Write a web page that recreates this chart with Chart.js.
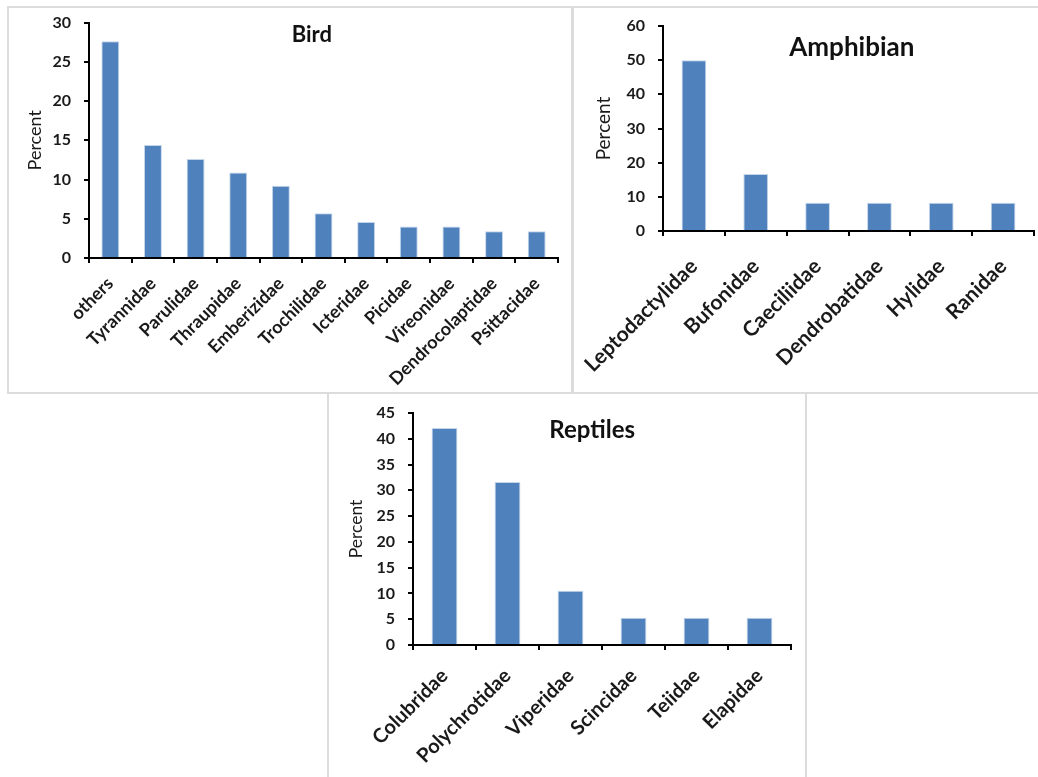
<!DOCTYPE html>
<html>
<head>
<meta charset="utf-8">
<script src="https://cdn.jsdelivr.net/npm/chart.js@4/dist/chart.umd.min.js"></script>
<style>
  html, body { margin: 0; padding: 0; background: #fff; }
  body { width: 1038px; height: 777px; position: relative; overflow: hidden; }
  .panel { position: absolute; border: 2px solid #dcdcdc; box-sizing: border-box; }
  canvas { position: absolute; }
</style>
</head>
<body>
<div class="panel" style="left:7px; top:6px; width:567px; height:388px;"></div>
<div class="panel" style="left:571px; top:6px; width:480px; height:388px;"></div>
<div class="panel" style="left:327px; top:392px; width:480px; height:400px; background:#fff;"></div>

<canvas id="bird" width="562" height="384" style="left:9px; top:8px;"></canvas>
<canvas id="amphibian" width="465" height="384" style="left:573px; top:8px;"></canvas>
<canvas id="reptiles" width="476" height="383" style="left:329px; top:394px;"></canvas>

<script>
// Percent of species per family, by group
const birdFamilies = ['others', 'Tyrannidae', 'Parulidae', 'Thraupidae', 'Emberizidae', 'Trochilidae',
  'Icteridae', 'Picidae', 'Vireonidae', 'Dendrocolaptidae', 'Psittacidae'];
const birdPercent = [27.6, 14.4, 12.6, 10.9, 9.2, 5.7, 4.6, 4.0, 4.0, 3.4, 3.4];
const birdTicks = { max: 30, step: 5 };

const amphibianFamilies = ['Leptodactylidae', 'Bufonidae', 'Caeciliidae', 'Dendrobatidae', 'Hylidae', 'Ranidae'];
const amphibianPercent = [50.0, 16.7, 8.3, 8.3, 8.3, 8.3];
const amphibianTicks = { max: 60, step: 10 };

const reptileFamilies = ['Colubridae', 'Polychrotidae', 'Viperidae', 'Scincidae', 'Teiidae', 'Elapidae'];
const reptilePercent = [42.1, 31.6, 10.5, 5.3, 5.3, 5.3];
const reptileTicks = { max: 45, step: 5 };

const FONT = 'Lato, "Open Sans", sans-serif';
const BAR_FILL = '#4F81BD';

// Draws the group name inside the plot area
const panelTitle = {
  id: 'panelTitle',
  afterDraw(chart, args, opts) {
    const { ctx, chartArea } = chart;
    ctx.save();
    ctx.font = 'bold ' + opts.size + 'px ' + FONT;
    ctx.fillStyle = '#111';
    ctx.textAlign = 'center';
    ctx.textBaseline = 'middle';
    ctx.fillText(opts.text, chartArea.left + opts.fx * chartArea.width, chartArea.top + opts.dy);
    ctx.restore();
  }
};

function makeChart(id, labels, values, ticks, cfg) {
  return new Chart(document.getElementById(id), {
    type: 'bar',
    data: {
      labels: labels,
      datasets: [{
        data: values,
        backgroundColor: BAR_FILL,
        borderColor: 'rgba(190,208,232,0.9)',
        borderWidth: 1,
        barPercentage: cfg.bar,
        categoryPercentage: 1.0
      }]
    },
    plugins: [panelTitle],
    options: {
      responsive: false,
      animation: false,
      devicePixelRatio: 1,
      layout: { padding: { top: cfg.top, right: cfg.right, left: 0, bottom: 0 } },
      plugins: {
        legend: { display: false },
        tooltip: { enabled: false },
        panelTitle: { text: cfg.title, size: cfg.titleSize, fx: cfg.fx, dy: cfg.dy }
      },
      scales: {
        x: {
          offset: true,
          grid: { offset: true, drawOnChartArea: false, drawTicks: true, tickLength: 5, color: '#000', lineWidth: 2 },
          border: { color: '#000', width: 2 },
          ticks: {
            minRotation: 45, maxRotation: 45, autoSkip: false,
            padding: cfg.xPad,
            color: '#1a1a1a',
            font: { family: FONT, size: cfg.xSize, weight: 'bold' }
          },
          afterFit(scale) {
            scale.height = cfg.xHeight;
            scale.paddingLeft = 0;
            scale.paddingRight = 0;
          }
        },
        y: {
          min: 0, max: ticks.max,
          grid: { drawOnChartArea: false, drawTicks: true, tickLength: 5, color: '#000', lineWidth: 2 },
          border: { color: '#000', width: 2 },
          ticks: {
            stepSize: ticks.step,
            padding: cfg.yPad,
            color: '#1a1a1a',
            font: { family: FONT, size: cfg.ySize, weight: 'bold' }
          },
          title: {
            display: true, text: 'Percent',
            color: '#1a1a1a',
            font: { family: FONT, size: cfg.yTitleSize },
            padding: { top: cfg.yTitlePad, bottom: 0 }
          },
          afterFit(scale) {
            scale.width = cfg.yWidth;
            scale.paddingTop = 0;
            scale.paddingBottom = 0;
          }
        }
      }
    }
  });
}

makeChart('bird', birdFamilies, birdPercent, birdTicks, {
  title: 'Bird', titleSize: 22, fx: 0.475, dy: 12.5,
  top: 14.5, right: 13, yWidth: 80, xHeight: 134,
  bar: 0.42, xSize: 18, ySize: 16, yTitleSize: 18, xPad: 10, yPad: 13, yTitlePad: 15.2
});

makeChart('amphibian', amphibianFamilies, amphibianPercent, amphibianTicks, {
  title: 'Amphibian', titleSize: 26, fx: 0.509, dy: 22,
  top: 18, right: 4, yWidth: 90, xHeight: 161,
  bar: 0.40, xSize: 21, ySize: 16, yTitleSize: 19, xPad: 18, yPad: 13, yTitlePad: 19.1
});

makeChart('reptiles', reptileFamilies, reptilePercent, reptileTicks, {
  title: 'Reptiles', titleSize: 24, fx: 0.474, dy: 17,
  top: 19, right: 14, yWidth: 84, xHeight: 132,
  bar: 0.41, xSize: 20, ySize: 16, yTitleSize: 17.5, xPad: 14, yPad: 13, yTitlePad: 16.5
});
</script>
</body>
</html>
